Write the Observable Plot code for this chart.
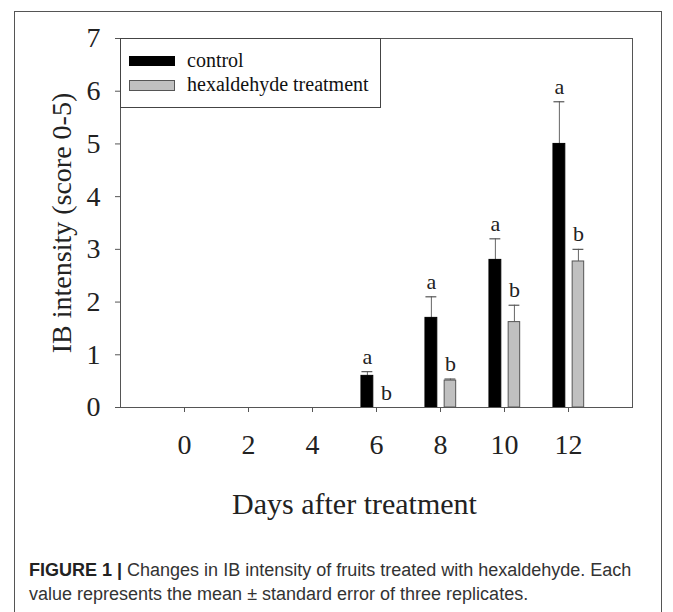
<!DOCTYPE html>
<html>
<head>
<meta charset="utf-8">
<script src="https://cdn.jsdelivr.net/npm/d3@7"></script>
<script src="https://cdn.jsdelivr.net/npm/@observablehq/plot@0.6"></script>
<style>
  body { margin: 0; background: #fff; }
  #wrap { position: relative; width: 673px; height: 612px; overflow: hidden; background: #fff; }
  #border { position: absolute; left: 14px; top: 11px; width: 648px; height: 660px; border: 1px solid #555; box-sizing: border-box; }
  #chart { position: absolute; left: 0; top: 0; }
  #legendBox { position: absolute; left: 119.5px; top: 37.5px; width: 261px; height: 70px; border: 1px solid #444; box-sizing: border-box; background: #fff; }
  .sw { position: absolute; left: 129px; width: 46px; height: 10px; box-sizing: border-box; }
  .lt { position: absolute; left: 187px; font-family: "Liberation Serif", serif; font-size: 20px; line-height: 20px; color: #111; white-space: nowrap; }
  #caption { position: absolute; left: 29px; top: 558px; font-family: "Liberation Sans", Arial, sans-serif; font-size: 18px; line-height: 24px; color: #333; white-space: nowrap; }
  #caption b { color: #222; }
</style>
</head>
<body>
<div id="wrap">
  <div id="border"></div>
  <div id="chart"></div>
  <div id="legendBox"></div>
  <div id="legend"></div>
  <div id="caption"></div>
</div>
<script>
// ---- data ----
const days = [0, 2, 4, 6, 8, 10, 12];
const controlMean = [0, 0, 0, 0.6, 1.7, 2.8, 5.0];
const controlSE   = [0, 0, 0, 0.08, 0.4, 0.4, 0.8];
const treatMean   = [0, 0, 0, 0, 0.51, 1.62, 2.77];
const treatSE     = [0, 0, 0, 0, 0.03, 0.32, 0.23];
const controlLetters = ["", "", "", "a", "a", "a", "a"];
const treatLetters   = ["", "", "", "b", "b", "b", "b"];
const seriesNames = ["control", "hexaldehyde treatment"];
const yTicks = [0, 1, 2, 3, 4, 5, 6, 7];
const xTicks = [0, 2, 4, 6, 8, 10, 12];
const yTitle = "IB intensity (score 0-5)";
const xTitle = "Days after treatment";
const captionBold = "FIGURE 1 |";
const captionLines = [
  " Changes in IB intensity of fruits treated with hexaldehyde. Each",
  "value represents the mean \u00b1 standard error of three replicates."
];

// ---- layout/styling (not data) ----
const barGeom = {
  "control": {lo: -0.47, hi: -0.1, fill: "#000", stroke: "#000"},
  "hexaldehyde treatment": {lo: 0.13, hi: 0.49, fill: "#c0c0c0", stroke: "#555"}
};
const capHalf = 0.17;

const rows = [];
days.forEach((day, i) => {
  [[seriesNames[0], controlMean[i], controlSE[i], controlLetters[i]],
   [seriesNames[1], treatMean[i], treatSE[i], treatLetters[i]]].forEach(([s, m, se, l]) => {
    const g = barGeom[s];
    rows.push({day, series: s, mean: m, se, letter: l,
      x1: day + g.lo, x2: day + g.hi, cx: day + (g.lo + g.hi) / 2});
  });
});

const chart = Plot.plot({
  width: 673,
  height: 540,
  marginLeft: 120,
  marginRight: 41,
  marginTop: 38,
  marginBottom: 133,
  x: {type: "linear", domain: [-2, 14]},
  y: {domain: [0, 7]},
  style: {fontFamily: '"Liberation Serif", "Times New Roman", serif', color: "#222", background: "transparent", overflow: "visible"},
  marks: [
    Plot.ruleX(rows.filter(d => d.se > 0), {x: "cx", y1: "mean", y2: d => d.mean + d.se, stroke: "#666", strokeWidth: 1}),
    Plot.ruleY(rows.filter(d => d.se > 0), {y: d => d.mean + d.se, x1: d => d.cx - capHalf, x2: d => d.cx + capHalf, stroke: "#555", strokeWidth: 1.2}),
    Plot.rect(rows.filter(d => d.mean > 0), {
      x1: "x1", x2: "x2", y1: 0, y2: "mean",
      fill: d => barGeom[d.series].fill, stroke: d => barGeom[d.series].stroke, strokeWidth: 1
    }),
    Plot.text(rows.filter(d => d.letter), {x: "cx", y: d => d.mean + d.se, text: "letter", dy: -15, fontSize: 22, fill: "#222"}),
    Plot.frame({stroke: "#555", strokeWidth: 1}),
    Plot.axisY({ticks: yTicks, tickSize: 5, tickPadding: 15, fontSize: 28, label: null, stroke: "#555", tickFormat: d => String(d)}),
    Plot.axisX({ticks: xTicks, tickSize: 5, tickPadding: 22, fontSize: 28, label: null, stroke: "#555", tickFormat: d => String(d)}),
    Plot.text([yTitle], {text: d => d, frameAnchor: "left", textAnchor: "middle", rotate: -90, dx: -58, fontSize: 28, fill: "#222"}),
    Plot.text([xTitle], {text: d => d, frameAnchor: "bottom", textAnchor: "middle", dx: -22, dy: 106, fontSize: 30, fill: "#222"})
  ]
});
document.getElementById("chart").appendChild(chart);

// legend
const legend = document.getElementById("legend");
const legendTops = [56, 80];
const textTops = [50, 74];
seriesNames.forEach((s, i) => {
  const sw = document.createElement("div");
  sw.className = "sw";
  sw.style.top = legendTops[i] + "px";
  sw.style.background = barGeom[s].fill;
  sw.style.border = "1px solid " + barGeom[s].stroke;
  if (i === 1) sw.style.height = "11px";
  legend.appendChild(sw);
  const t = document.createElement("div");
  t.className = "lt";
  t.style.top = textTops[i] + "px";
  t.textContent = s;
  legend.appendChild(t);
});

// caption
const cap = document.getElementById("caption");
const b = document.createElement("b");
b.textContent = captionBold;
cap.appendChild(b);
cap.appendChild(document.createTextNode(captionLines[0]));
cap.appendChild(document.createElement("br"));
cap.appendChild(document.createTextNode(captionLines[1]));
</script>
</body>
</html>
